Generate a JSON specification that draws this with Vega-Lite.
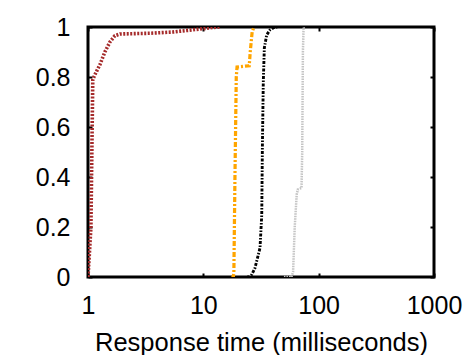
{
  "$schema": "https://vega.github.io/schema/vega-lite/v6.json",
  "width": 346,
  "height": 250,
  "autosize": {"type": "none"},
  "padding": {"left": 88, "top": 27, "right": 39, "bottom": 78},
  "background": "white",
  "config": {
    "view": {"stroke": "black", "strokeWidth": 3},
    "font": "Liberation Sans",
    "axis": {"grid": false, "domain": false, "tickColor": "black", "tickWidth": 2, "labelFont": "Liberation Sans", "titleFont": "Liberation Sans", "labelColor": "black", "titleColor": "black", "labelFontSize": 25, "titleFontSize": 25.5, "titleFontWeight": "normal"}
  },
  "data": {"values": [
    {"s": "gray", "x": 50, "y": 0}, {"s": "gray", "x": 58, "y": 0}, {"s": "gray", "x": 60, "y": 0.02}, {"s": "gray", "x": 62, "y": 0.2}, {"s": "gray", "x": 64.5, "y": 0.33}, {"s": "gray", "x": 66, "y": 0.35}, {"s": "gray", "x": 71, "y": 0.356}, {"s": "gray", "x": 72, "y": 0.5}, {"s": "gray", "x": 73, "y": 0.9}, {"s": "gray", "x": 74, "y": 1}, {"s": "gray", "x": 76, "y": 1},
    {"s": "black", "x": 24, "y": 0}, {"s": "black", "x": 25, "y": 0}, {"s": "black", "x": 26.3, "y": 0.01}, {"s": "black", "x": 28, "y": 0.035}, {"s": "black", "x": 31, "y": 0.116}, {"s": "black", "x": 32.1, "y": 0.248}, {"s": "black", "x": 32.5, "y": 0.516}, {"s": "black", "x": 33.1, "y": 0.78}, {"s": "black", "x": 33.8, "y": 0.916}, {"s": "black", "x": 35.4, "y": 0.968}, {"s": "black", "x": 37.8, "y": 0.988}, {"s": "black", "x": 41.8, "y": 1}, {"s": "black", "x": 45, "y": 1},
    {"s": "orange", "x": 17.5, "y": 0}, {"s": "orange", "x": 18.2, "y": 0}, {"s": "orange", "x": 18.4, "y": 0.02}, {"s": "orange", "x": 18.8, "y": 0.4}, {"s": "orange", "x": 19.3, "y": 0.8}, {"s": "orange", "x": 19.6, "y": 0.84}, {"s": "orange", "x": 25, "y": 0.845}, {"s": "orange", "x": 25.5, "y": 0.9}, {"s": "orange", "x": 26.5, "y": 0.98}, {"s": "orange", "x": 27.5, "y": 1},
    {"s": "red", "x": 1, "y": 0}, {"s": "red", "x": 1.03, "y": 0.1}, {"s": "red", "x": 1.06, "y": 0.2}, {"s": "red", "x": 1.08, "y": 0.5}, {"s": "red", "x": 1.1, "y": 0.79}, {"s": "red", "x": 1.15, "y": 0.81}, {"s": "red", "x": 1.27, "y": 0.85}, {"s": "red", "x": 1.4, "y": 0.9}, {"s": "red", "x": 1.55, "y": 0.94}, {"s": "red", "x": 1.71, "y": 0.965}, {"s": "red", "x": 1.89, "y": 0.972}, {"s": "red", "x": 3.45, "y": 0.975}, {"s": "red", "x": 5.46, "y": 0.98}, {"s": "red", "x": 9.4, "y": 0.992}, {"s": "red", "x": 12, "y": 0.998}, {"s": "red", "x": 14, "y": 1}
  ]},
  "resolve": {"axis": {"x": "independent", "y": "independent"}},
  "layer": [
    {
      "mark": {"type": "line", "clip": true, "interpolate": "linear"},
      "encoding": {
        "x": {"field": "x", "type": "quantitative", "scale": {"type": "log", "domain": [1, 1000], "nice": false},
              "axis": {"orient": "bottom", "values": [1, 10, 100, 1000], "format": "d", "tickSize": -4, "labelPadding": 20, "title": "Response time (milliseconds)", "titlePadding": 12, "labelFlush": false}},
        "y": {"field": "y", "type": "quantitative", "scale": {"domain": [0, 1], "nice": false},
              "axis": {"orient": "left", "values": [0, 0.2, 0.4, 0.6, 0.8, 1], "format": ".1~f", "tickSize": -4, "labelPadding": 22, "title": null, "labelFlush": false}},
        "detail": {"field": "s"},
        "order": {"field": "x", "type": "quantitative"},
        "color": {"field": "s", "type": "nominal", "legend": null, "scale": {"domain": ["gray", "black", "orange", "red"], "range": ["#c4c4c4", "#000000", "#ffa500", "#a52a2a"]}},
        "strokeDash": {"field": "s", "type": "nominal", "legend": null, "scale": {"domain": ["gray", "black", "orange", "red"], "range": [[1.5, 1], [3, 1.5, 1.5, 1.5], [5, 2, 2, 2], [2, 1.5]]}},
        "strokeWidth": {"field": "s", "type": "nominal", "legend": null, "scale": {"domain": ["gray", "black", "orange", "red"], "range": [2.5, 3.6, 3.2, 3.8]}}
      }
    },
    {
      "mark": {"type": "line", "opacity": 0},
      "encoding": {
        "x": {"field": "x", "type": "quantitative", "scale": {"type": "log", "domain": [1, 1000], "nice": false},
              "axis": {"orient": "top", "values": [1, 10, 100, 1000], "labels": false, "tickSize": -4, "title": null}},
        "y": {"field": "y", "type": "quantitative", "scale": {"domain": [0, 1], "nice": false},
              "axis": {"orient": "right", "values": [0, 0.2, 0.4, 0.6, 0.8, 1], "labels": false, "tickSize": -4, "title": null}},
        "detail": {"field": "s"}
      }
    }
  ]
}
